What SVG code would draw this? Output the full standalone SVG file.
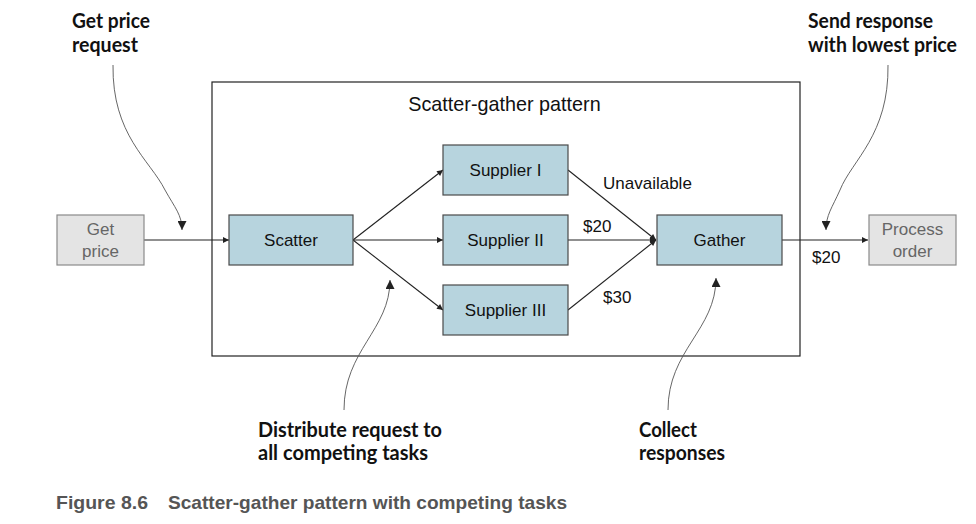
<svg xmlns="http://www.w3.org/2000/svg" width="976" height="524" viewBox="0 0 976 524">
<style>
.bg{fill:#ffffff}
.node rect.blue{fill:#b7d4de;stroke:#4a4a4a;stroke-width:1.2}
.node rect.gray{fill:#e4e4e4;stroke:#8a8a8a;stroke-width:1.2}
.t{font-family:"Liberation Sans",Arial,sans-serif;font-size:17px;fill:#111;text-anchor:middle}
.tg{font-family:"Liberation Sans",Arial,sans-serif;font-size:17px;fill:#666;text-anchor:middle}
.title{font-family:"Liberation Sans",Arial,sans-serif;font-size:19.8px;fill:#111;text-anchor:middle}
.lbl{font-family:"Liberation Sans",Arial,sans-serif;font-size:17px;fill:#111}
.ann{font-family:Lato,"Liberation Sans",sans-serif;font-weight:bold;font-size:20px;fill:#111}
.cap{font-family:"Liberation Sans",Arial,sans-serif;font-weight:bold;font-size:19px;fill:#555}
.edge{fill:none;stroke:#222;stroke-width:1.1;marker-end:url(#ah)}
.curve{fill:none;stroke:#555;stroke-width:0.9;marker-end:url(#ah2)}
</style>
<defs>
<marker id="ah" viewBox="0 0 10 10" refX="10" refY="5" markerWidth="8" markerHeight="6" markerUnits="userSpaceOnUse" orient="auto">
<path d="M0,0 L10,5 L0,10 z" fill="#222"/>
</marker>
<marker id="ah2" viewBox="0 0 10 10" refX="10" refY="5" markerWidth="10" markerHeight="9" markerUnits="userSpaceOnUse" orient="auto">
<path d="M0,0 L10,5 L0,10 z" fill="#222"/>
</marker>
</defs>
<rect class="bg" x="0" y="0" width="976" height="524"/>

<g id="container">
<rect x="212" y="82" width="588" height="274" fill="none" stroke="#222" stroke-width="1.2"/>
<text class="title" x="504.5" y="111">Scatter-gather pattern</text>
</g>

<g id="connectors">
<path class="edge" d="M144,240 L229,240"/>
<path class="edge" d="M353,240 L443,170"/>
<path class="edge" d="M353,240 L443,240"/>
<path class="edge" d="M353,240 L443,310"/>
<path class="edge" d="M568,170 L656,240"/>
<path class="edge" d="M568,240 L656,240"/>
<path class="edge" d="M568,310 L656,240"/>
<path class="edge" d="M782,240 L868,240"/>
<path class="curve" d="M113,65 C112,135 150,160 165,190 C175,208 182,215 182,230"/>
<path class="curve" d="M888,65 C889,135 852,160 840,190 C832,208 826,215 826,230"/>
<path class="curve" d="M344,410 C344,350 390,330 390,280"/>
<path class="curve" d="M668,410 C668,350 716,330 716,278"/>
<text class="lbl" x="603" y="189">Unavailable</text>
<text class="lbl" x="583" y="232">$20</text>
<text class="lbl" x="603" y="303">$30</text>
<text class="lbl" x="812" y="263">$20</text>
</g>

<g id="get-price" class="node">
<rect class="gray" x="57" y="215" width="87" height="50"/>
<text class="tg" x="100.5" y="235">Get</text>
<text class="tg" x="100.5" y="257">price</text>
</g>
<g id="scatter" class="node">
<rect class="blue" x="229" y="215" width="124" height="50"/>
<text class="t" x="291" y="246">Scatter</text>
</g>
<g id="supplier-1" class="node">
<rect class="blue" x="443" y="145" width="125" height="50"/>
<text class="t" x="505.5" y="176">Supplier I</text>
</g>
<g id="supplier-2" class="node">
<rect class="blue" x="443" y="215" width="125" height="50"/>
<text class="t" x="505.5" y="246">Supplier II</text>
</g>
<g id="supplier-3" class="node">
<rect class="blue" x="443" y="285" width="125" height="50"/>
<text class="t" x="505.5" y="316">Supplier III</text>
</g>
<g id="gather" class="node">
<rect class="blue" x="657" y="215" width="125" height="50"/>
<text class="t" x="719.5" y="246">Gather</text>
</g>
<g id="process-order" class="node">
<rect class="gray" x="869" y="215" width="87" height="50"/>
<text class="tg" x="912.5" y="235">Process</text>
<text class="tg" x="912.5" y="257">order</text>
</g>

<g id="annotations">
<text class="ann" x="72" y="28" textLength="78" lengthAdjust="spacingAndGlyphs">Get price</text>
<text class="ann" x="72" y="52" textLength="66" lengthAdjust="spacingAndGlyphs">request</text>
<text class="ann" x="808" y="28" textLength="125" lengthAdjust="spacingAndGlyphs">Send response</text>
<text class="ann" x="808" y="52" textLength="149" lengthAdjust="spacingAndGlyphs">with lowest price</text>
<text class="ann" x="258" y="437" textLength="184" lengthAdjust="spacingAndGlyphs">Distribute request to</text>
<text class="ann" x="258" y="460" textLength="170" lengthAdjust="spacingAndGlyphs">all competing tasks</text>
<text class="ann" x="639" y="437" textLength="58" lengthAdjust="spacingAndGlyphs">Collect</text>
<text class="ann" x="639" y="460" textLength="86" lengthAdjust="spacingAndGlyphs">responses</text>
</g>

<g id="caption">
<text class="cap" x="56" y="509" textLength="92" lengthAdjust="spacingAndGlyphs">Figure 8.6</text>
<text class="cap" x="168" y="509" textLength="399" lengthAdjust="spacingAndGlyphs">Scatter-gather pattern with competing tasks</text>
</g>
</svg>
